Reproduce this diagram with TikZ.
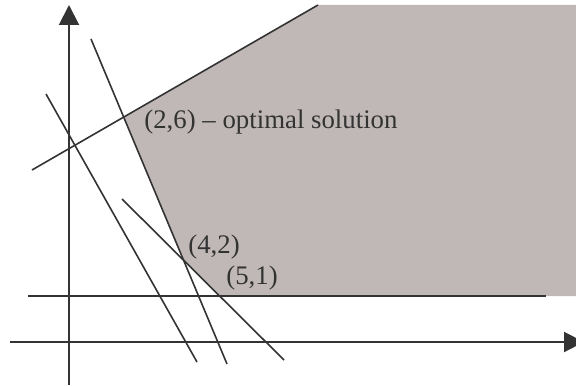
\documentclass[tikz,border=0pt]{standalone}
\usepackage{fontspec}
\setmainfont{Liberation Serif}
\usetikzlibrary{arrows.meta}
\definecolor{inkgray}{RGB}{51,51,51}
\definecolor{feasgray}{RGB}{192,184,182}
\begin{document}
\begin{tikzpicture}[x=0.5pt, y=0.5pt, line cap=butt,
    axis/.style={draw=inkgray, line width=1pt, -{Triangle[length=10pt, width=10pt]}},
    cons/.style={draw=inkgray, line width=0.8pt},
    every node/.style={text=inkgray, inner sep=0pt, anchor=west, font=\fontsize{13.4}{15}\selectfont}]
    \useasboundingbox (0,0) rectangle (576,385);
    % 1. 约束直线端点
    \coordinate (A1) at (32,215);  \coordinate (A2) at (318,380);
    \coordinate (B1) at (91,346);  \coordinate (B2) at (227,21);
    \coordinate (C1) at (46,291);  \coordinate (C2) at (197,23);
    \coordinate (D1) at (122,186); \coordinate (D2) at (284,25);
    \coordinate (H1) at (28,89);   \coordinate (H2) at (546,89);
    % 2. 可行域顶点
    \coordinate (opt) at (intersection of A1--A2 and B1--B2);
    \coordinate (v42) at (intersection of B1--B2 and D1--D2);
    \coordinate (v51) at (intersection of D1--D2 and H1--H2);
    \coordinate (TR) at (576,380);
    \coordinate (BR) at (576,89);
    \fill[feasgray] (opt) -- (A2) -- (TR) -- (BR) -- (v51) -- (v42) -- cycle;
    % 3. 坐标轴
    \coordinate (xs) at (10,43);  \coordinate (xe) at (584,43);
    \coordinate (ys) at (69,0);   \coordinate (ye) at (69,380);
    \draw[axis] (xs) -- (xe);
    \draw[axis] (ys) -- (ye);
    % 4. 约束直线
    \draw[cons] (A1) -- (A2);
    \draw[cons] (B1) -- (B2);
    \draw[cons] (C1) -- (C2);
    \draw[cons] (D1) -- (D2);
    \draw[cons] (H1) -- (H2);
    % 5. 顶点标签
    \node (lopt) at (144,263) {(2,6) -- optimal solution};
    \node (l42) at (188,138) {(4,2)};
    \node (l51) at (226,107) {(5,1)};
\end{tikzpicture}
\end{document}
